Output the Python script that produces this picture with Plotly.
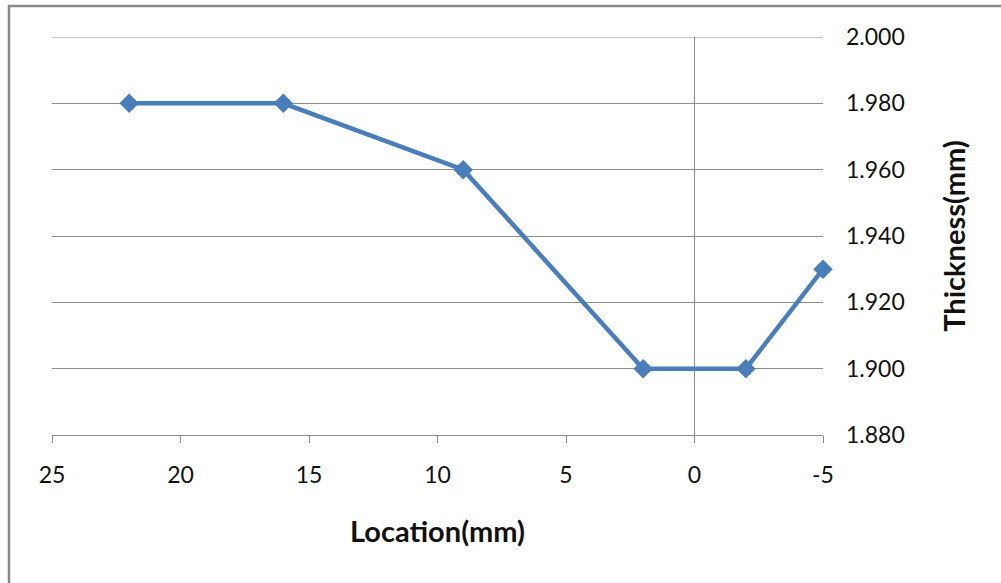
import plotly.graph_objects as go

location_mm = [22, 16, 9, 2, -2, -5]
thickness_mm = [1.98, 1.98, 1.96, 1.90, 1.90, 1.93]
x_ticks = [25, 20, 15, 10, 5, 0, -5]
y_ticks = [1.88, 1.90, 1.92, 1.94, 1.96, 1.98, 2.00]
y_tick_labels = [f"{v:.3f}" for v in y_ticks]

W, H = 1001, 583
L, R, T, B = 52, 178, 37, 148
pw, ph = W - L - R, H - T - B

def px(xp):
    return (xp - L) / pw

def py(yp):
    return (H - B - yp) / ph

fig = go.Figure()
fig.add_trace(go.Scatter(
    x=location_mm, y=thickness_mm, mode="lines+markers",
    line=dict(color="#4A7EBB", width=4.5),
    marker=dict(symbol="diamond", size=15, color="#4A7EBB"),
    showlegend=False, cliponaxis=False,
))

grid = "#8C8C8C"
font = "Lato, Calibri, sans-serif"
fig.update_layout(
    width=W, height=H,
    margin=dict(l=L, r=R, t=T, b=B),
    paper_bgcolor="white", plot_bgcolor="white",
    font=dict(family=font, color="#111111", size=23),
    xaxis=dict(
        range=[25, -5], tickvals=x_ticks, ticktext=[str(v) for v in x_ticks],
        showgrid=False, zeroline=True, zerolinecolor=grid, zerolinewidth=1,
        showline=True, linecolor=grid, linewidth=1,
        ticks="outside", ticklen=7, tickcolor=grid, tickwidth=1,
        ticklabelstandoff=12,
        tickfont=dict(size=23),
        title=dict(text="<b>Location(mm)</b>", font=dict(size=29), standoff=35),
    ),
    yaxis=dict(
        range=[1.88, 2.0], tickvals=y_ticks, ticktext=y_tick_labels,
        side="right", showgrid=True, gridcolor=grid, gridwidth=1,
        zeroline=False, showline=False, ticks="",
        ticklabelstandoff=22,
        tickfont=dict(size=23),
        title=dict(text="<b>Thickness(mm)</b>", font=dict(size=29), standoff=40),
    ),
    shapes=[
        dict(type="rect", xref="paper", yref="paper",
             x0=px(9), x1=px(1010), y0=py(6), y1=py(600),
             line=dict(color="#888888", width=2.5), fillcolor="rgba(0,0,0,0)",
             layer="below"),
        dict(type="line", xref="paper", yref="y",
             x0=0, x1=1, y0=y_ticks[-1], y1=y_ticks[-1],
             line=dict(color=grid, width=1), layer="below"),
    ],
)

fig.write_html("out.html")
